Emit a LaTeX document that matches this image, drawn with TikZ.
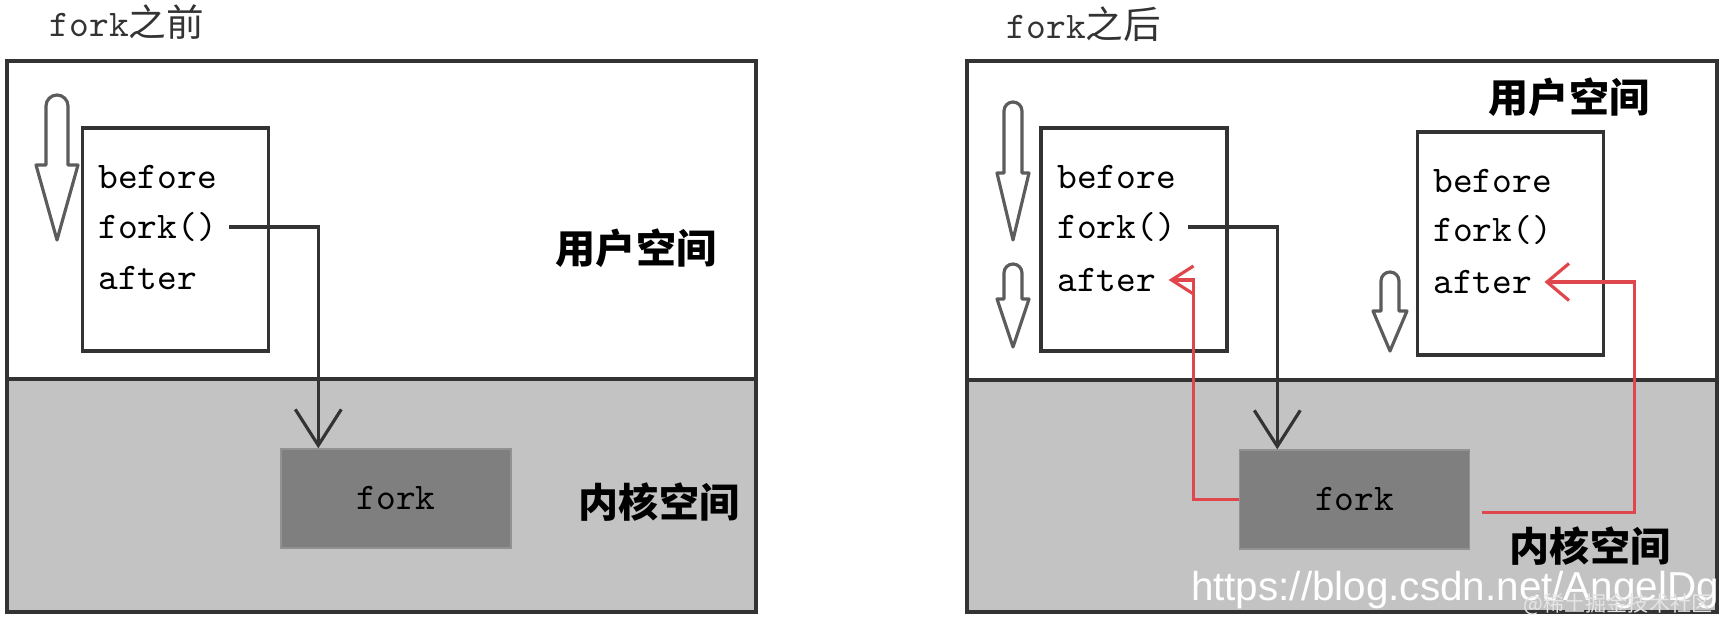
\documentclass[tikz,border=0pt]{standalone}
\usepackage{fontspec}
\newfontfamily\cjk{Noto Sans CJK SC}
\newfontfamily\websans{Liberation Sans}
\usetikzlibrary{arrows.meta,positioning,calc}

\definecolor{gris}{HTML}{C3C3C3}
\definecolor{fonce}{HTML}{7F7F7F}
\definecolor{trait}{HTML}{333333}
\definecolor{rouge}{HTML}{E0474C}

% fleche creuse : x, haut, debut de la pointe, bas, demi-tige, demi-pointe
\newcommand{\fleche}[6]{%
  \draw[creux] ({#1-#5},{#2+#5}) arc (180:360:#5) -- ({#1+#5},#3)
    -- ({#1+#6},#3) -- (#1,#4) -- ({#1-#6},#3) -- ({#1-#5},#3) -- cycle;}

\tikzset{bord/.style={draw=trait,line width=1.1pt},
cadre/.style={draw=trait,line width=1.1pt,fill=white,minimum width=18.6mm,minimum height=22.3mm,inner sep=0pt},
noyau/.style={fill=fonce,draw=fonce!85,minimum width=23mm,minimum height=9.9mm,font=\ttfamily\fontsize{10.7}{12}\selectfont},
code/.style={anchor=west,text height=0.65em,text depth=0pt,font=\ttfamily\fontsize{10.7}{12}\selectfont},
titre/.style={font=\ttfamily\fontsize{10.7}{12}\selectfont,text=trait},
espace/.style={font=\cjk\bfseries\fontsize{11.4}{13}\selectfont},
creux/.style={draw=trait!80,line width=0.9pt,fill=white,line join=round},
ligne/.style={draw=trait,line width=0.9pt,-{Straight Barb[length=3.6mm,width=4.6mm]}},
retour/.style={draw=rouge,line width=0.9pt,-{Straight Barb[length=2.2mm,width=#1]}},
retour/.default={2.8mm},
filigrane/.style={inner sep=0pt,text=#1},
filigrane/.default={white}}

\begin{document}
\begin{tikzpicture}[x=0.1mm,y=-0.1mm]
\useasboundingbox (0,0) rectangle (1721,618);

% fork avant
\node[titre] (t1) at (127,22) {fork{\cjk 之前}};
\fill[gris] (7,379) rectangle (756,612);
\draw[bord] (7,61) rectangle (756,612);
\draw[bord] (7,379) -- (756,379);
\fleche{57}{95}{165}{240}{11}{21}
\node[cadre] (p1) at (175.5,239.5) {};
\node[code] (b1) at (86,177) {before};
\node[code] (f1) at (86,227) {fork()};
\node[code] (a1) at (86,278) {after};
\node[noyau] (k1) at (396,498.5) {fork};
\draw[ligne] (f1.east) -- ++(89,0) coordinate (c1) -- (c1 |- k1.north);
\node[espace] (u1) at (636,248) {用户空间};
\node[espace] (n1) at (659,502) {内核空间};

% fork apres
\node[titre] (t2) at (1084,24) {fork{\cjk 之后}};
\fill[gris] (967,380) rectangle (1717,612);
\draw[bord] (967,61) rectangle (1717,612);
\draw[bord] (967,380) -- (1717,380);
\fleche{1013}{102}{173}{240}{9}{16}
\fleche{1013}{264}{299}{347}{9}{16}
\fleche{1390}{272}{311}{351}{9}{17}
\node[cadre] (p2) at (1134,239.5) {};
\node[code] (b2) at (1045,177) {before};
\node[code] (f2) at (1045,227) {fork()};
\node[code] (a2) at (1045,280) {after};
\node[cadre] (p3) at (1510.5,243.5) {};
\node[code] (b3) at (1421,181) {before};
\node[code] (f3) at (1421,230) {fork()};
\node[code] (a3) at (1421,282) {after};
\node[noyau] (k2) at (1354.5,499.5) {fork};
\draw[ligne] (f2.east) -- ++(89,0) coordinate (c2) -- (c2 |- k2.north);
\draw[retour] (k2.west) -- ++(-45,0) |- (a2.east);
\draw[retour=3.7mm] ([shift={(12,13)}]k2.east) -- ++(152,0) |- (a3.east);
\node[espace,inner sep=0pt] (u2) at (1569,97) {用户空间};
\node[espace,inner sep=0pt] (n2) at (1590,546) {内核空间};

% filigrane
\node[filigrane,font=\websans\fontsize{11.5}{12}\selectfont] (w1) at (1455,590) {https://blog.csdn.net/AngelDg};
\node[filigrane=gray!20,font=\cjk\fontsize{6}{7}\selectfont,anchor=east] (w2) at (1713,604) {@稀土掘金技术社区};
\end{tikzpicture}
\end{document}
